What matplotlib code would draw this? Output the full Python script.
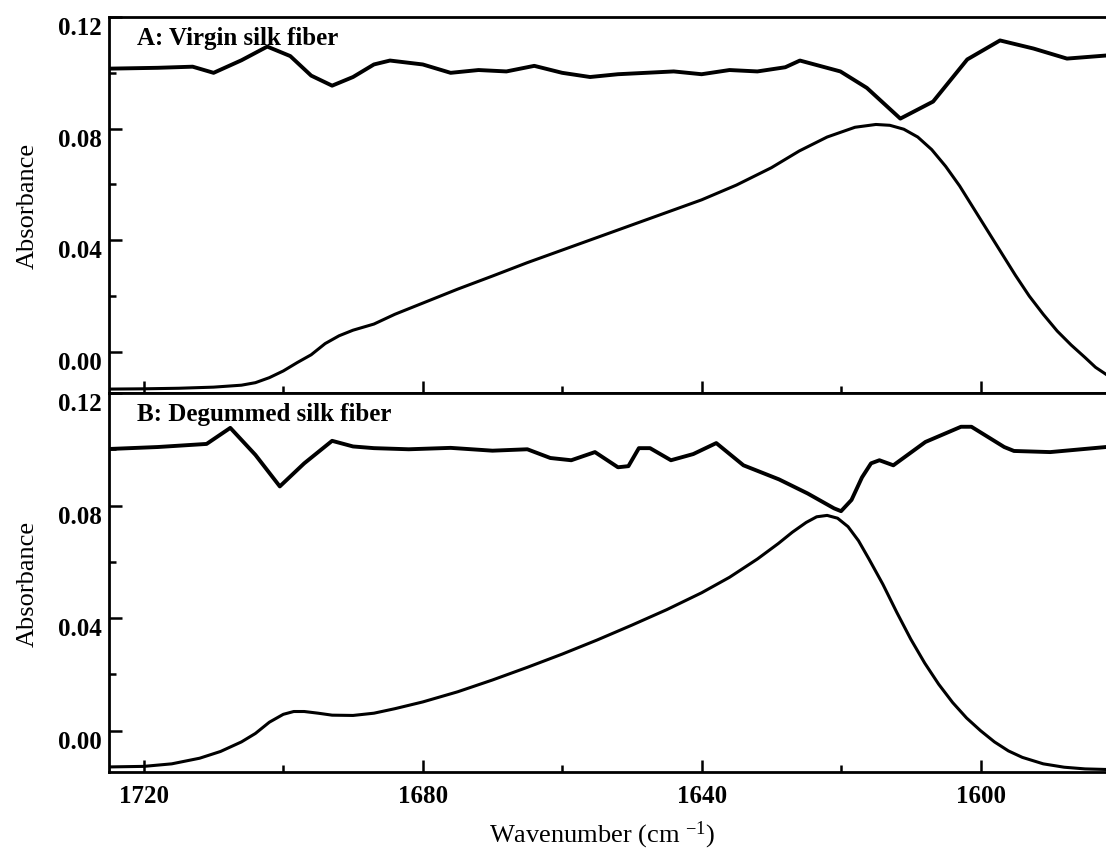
import matplotlib
matplotlib.use('Agg')
import matplotlib.pyplot as plt
import matplotlib.transforms as mtransforms
from matplotlib.ticker import MultipleLocator, FormatStrFormatter

plt.rcParams['font.family'] = ['Liberation Serif', 'DejaVu Serif']
plt.rcParams['mathtext.default'] = 'regular'

# A: virgin silk fiber
a_top_wn = [1725, 1718, 1713, 1710, 1706, 1702.3, 1699, 1696, 1693, 1690, 1687, 1684.7,
            1680, 1676, 1672, 1668, 1664, 1660, 1656, 1652, 1648, 1644, 1640, 1636,
            1632, 1628, 1625.9, 1620.1, 1616.3, 1611.5, 1606.8, 1601.9, 1597.2,
            1592.4, 1587.6, 1582]
a_top = [0.1015, 0.1018, 0.1022, 0.1000, 0.1045, 0.1094, 0.1060, 0.0990, 0.0954, 0.0985,
         0.1030, 0.1044, 0.1030, 0.1000, 0.1010, 0.1005, 0.1025, 0.1000, 0.0985, 0.0995,
         0.1000, 0.1005, 0.0995, 0.1010, 0.1005, 0.1020, 0.1044, 0.1005, 0.0946, 0.0836,
         0.0897, 0.1048, 0.1116, 0.1087, 0.1051, 0.1062]

a_band_wn = [1725, 1720, 1715, 1710, 1706, 1704, 1702, 1700, 1698, 1696, 1694, 1692,
             1690, 1687, 1684, 1680, 1675, 1670, 1665, 1660, 1655, 1650, 1645, 1640,
             1635, 1630, 1626, 1622, 1618, 1615, 1613, 1611, 1609, 1607, 1605, 1603,
             1601, 1599, 1597, 1595, 1593, 1591, 1589, 1587, 1585, 1583.5, 1582]
a_band = [-0.0133, -0.0132, -0.0130, -0.0126, -0.0119, -0.0110, -0.0092, -0.0068,
          -0.0038, -0.0010, 0.0030, 0.0058, 0.0078, 0.0100, 0.0135, 0.0175, 0.0225,
          0.0272, 0.0320, 0.0365, 0.0410, 0.0455, 0.0500, 0.0545, 0.0598, 0.0660,
          0.0720, 0.0770, 0.0805, 0.0815, 0.0812, 0.0798, 0.0770, 0.0725, 0.0665,
          0.0595, 0.0515, 0.0435, 0.0355, 0.0275, 0.0200, 0.0135, 0.0075, 0.0025,
          -0.0020, -0.0055, -0.0080]

# B: degummed silk fiber
b_top_wn = [1725, 1718, 1711, 1707.6, 1704, 1700.5, 1697, 1693, 1690, 1687, 1682, 1676,
            1670, 1665, 1661.7, 1658.7, 1655.3, 1652, 1650.5, 1649, 1647.4, 1644.4,
            1641.2, 1637.9, 1634, 1628.9, 1624.8, 1621, 1620, 1618.5, 1617, 1615.7,
            1614.5, 1612.5, 1607.9, 1602.8, 1601.3, 1596.6, 1595.2, 1590, 1582]
b_top = [0.1001, 0.1008, 0.1019, 0.1076, 0.0980, 0.0868, 0.0950, 0.1030, 0.1010, 0.1004,
         0.1000, 0.1005, 0.0995, 0.1000, 0.0969, 0.0961, 0.0990, 0.0936, 0.0940, 0.1004,
         0.1004, 0.0961, 0.0983, 0.1022, 0.0943, 0.0893, 0.0843, 0.0790, 0.0780, 0.0820,
         0.0900, 0.0950, 0.0961, 0.0943, 0.1026, 0.1080, 0.1080, 0.1008, 0.0994, 0.0990,
         0.1008]

b_band_wn = [1725, 1720, 1716, 1712, 1709, 1706, 1704, 1702, 1700, 1698.5, 1697, 1695,
             1693, 1690, 1687, 1684, 1680, 1675, 1670, 1665, 1660, 1655, 1650, 1645,
             1640, 1636, 1632, 1629, 1627, 1625, 1623.5, 1622, 1620.5, 1619, 1617.5,
             1616, 1614, 1612, 1610, 1608, 1606, 1604, 1602, 1600, 1598, 1596, 1594,
             1591, 1588, 1585, 1582]
b_band = [-0.0129, -0.0127, -0.0118, -0.0098, -0.0074, -0.0040, -0.0010, 0.0030, 0.0058,
          0.0068, 0.0068, 0.0062, 0.0055, 0.0054, 0.0062, 0.0078, 0.0102, 0.0138, 0.0180,
          0.0225, 0.0272, 0.0322, 0.0375, 0.0430, 0.0490, 0.0545, 0.0610, 0.0665, 0.0705,
          0.0740, 0.0760, 0.0765, 0.0755, 0.0725, 0.0675, 0.0610, 0.0520, 0.0420, 0.0325,
          0.0240, 0.0165, 0.0100, 0.0045, 0.0000, -0.0040, -0.0072, -0.0095, -0.0118,
          -0.0130, -0.0136, -0.0138]

panels = [('A: Virgin silk fiber', a_top_wn, a_top, a_band_wn, a_band),
          ('B: Degummed silk fiber', b_top_wn, b_top, b_band_wn, b_band)]

W, H = 1106, 853
fig = plt.figure(figsize=(W / 100, H / 100), dpi=100)

left = 109 / W
rects = [(18, 394), (394, 773)]
shift = mtransforms.ScaledTranslation(0, -8 / 100, fig.dpi_scale_trans)

axes = []
for (title, wn1, y1, wn2, y2), (t, b) in zip(panels, rects):
    ax = fig.add_axes([left, 1 - b / H, 1 - left, (b - t) / H])
    ax.plot(wn1, y1, color='k', lw=2.8, solid_joinstyle='round')
    ax.plot(wn2, y2, color='k', lw=2.2, solid_joinstyle='round')
    ax.set_xlim(1725, 1582)
    ax.set_ylim(-0.0147, 0.12)
    ax.spines['right'].set_visible(False)
    for s in ['left', 'top', 'bottom']:
        ax.spines[s].set_linewidth(2.0)
    ax.xaxis.set_major_locator(MultipleLocator(40))
    ax.xaxis.set_minor_locator(MultipleLocator(20))
    ax.yaxis.set_major_locator(MultipleLocator(0.04))
    ax.yaxis.set_minor_locator(MultipleLocator(0.02))
    ax.yaxis.set_major_formatter(FormatStrFormatter('%.2f'))
    ax.tick_params(which='both', direction='in', top=False, right=False, width=1.8)
    ax.tick_params(which='major', length=9, labelsize=18, pad=5)
    ax.tick_params(which='minor', length=5)
    ax.tick_params(axis='x', pad=9)
    for lab in ax.get_yticklabels():
        lab.set_fontweight('bold')
        lab.set_transform(lab.get_transform() + shift)
    ax.set_ylabel('Absorbance', fontsize=19)
    ax.yaxis.set_label_coords(-0.070, 0.5)
    ax.text(0.028, 0.975, title, transform=ax.transAxes, fontsize=18,
            fontweight='bold', va='top', ha='left')
    axes.append(ax)

axes[0].tick_params(axis='x', labelbottom=False)
for lab in axes[1].get_xticklabels():
    lab.set_fontweight('bold')

fig.text(602 / W, 1 - 835 / H, r'Wavenumber (cm $^{-1}$)', fontsize=19,
         ha='center', va='center')

fig.savefig('out.png', dpi=100)
